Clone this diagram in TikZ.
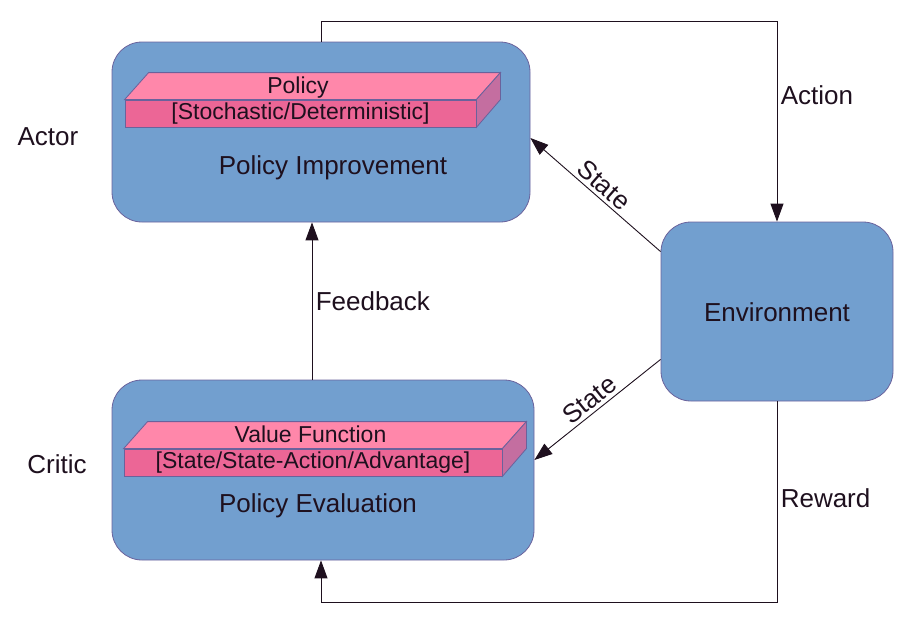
\documentclass[tikz,border=0pt]{standalone}
\usepackage{fontspec}
\setmainfont{Liberation Sans}
\usepackage{tikz}
\usetikzlibrary{positioning, arrows.meta, calc}

\definecolor{boxblue}{RGB}{114,159,207}
\definecolor{boxline}{RGB}{106,98,156}
\definecolor{slabtop}{RGB}{255,135,170}
\definecolor{slabfront}{RGB}{236,102,150}
\definecolor{slabside}{RGB}{196,110,160}
\definecolor{ink}{RGB}{30,16,30}

\tikzset{
  block/.style={draw=boxline, fill=boxblue, rounded corners=30pt, line width=0.8pt},
  slab/.style={draw=boxline, fill=slabfront, line width=0.8pt, minimum height=27pt,
    inner sep=0pt, text=ink, font=\fontsize{23}{27}\selectfont},
  slabtext/.style={inner sep=0pt, text=ink, font=\fontsize{23}{27}\selectfont},
  lbl/.style={text=ink, font=\fontsize{26}{31}\selectfont},
  flow/.style={draw=ink, line width=0.9pt, -{Triangle[length=18pt,width=13pt]}}
}

\begin{document}
\begin{tikzpicture}[x=1pt,y=-1pt]
  \useasboundingbox (0,0) rectangle (908,622);

  % blocks
  \node[block, minimum width=418pt, minimum height=180pt] (actor) at (321,132) {};
  \node[block, minimum width=422pt, minimum height=180pt] (critic) at (323,470) {};
  \node[block, minimum width=232pt, minimum height=179pt] (env) at (777,311.5) {};

  % policy slab
  \node[slab, minimum width=351pt] (polslab) at (300.5,113.5) {[Stochastic/Deterministic]};
  \filldraw[draw=boxline, fill=slabtop, line width=0.8pt] (polslab.north west) -- ++(24,-27)
    -- ($(polslab.north east)+(24,-27)$) -- (polslab.north east) -- cycle;
  \filldraw[draw=boxline, fill=slabside, line width=0.8pt] (polslab.north east) -- ++(24,-27)
    -- ++(0,27) -- (polslab.south east) -- cycle;
  \node[slabtext, above=6.5pt of polslab, anchor=base, xshift=-2.5pt] (poltitle) {Policy};

  % value slab
  \node[slab, minimum width=378pt] (valslab) at (313,462.5) {[State/State-Action/Advantage]};
  \filldraw[draw=boxline, fill=slabtop, line width=0.8pt] (valslab.north west) -- ++(24,-27)
    -- ($(valslab.north east)+(24,-27)$) -- (valslab.north east) -- cycle;
  \filldraw[draw=boxline, fill=slabside, line width=0.8pt] (valslab.north east) -- ++(24,-27)
    -- ++(0,27) -- (valslab.south east) -- cycle;
  \node[slabtext, above=6.5pt of valslab, anchor=base, xshift=-2.5pt] (valtitle) {Value Function};

  % texts
  \node[lbl] (impr) at (333,168) {Policy Improvement};
  \node[lbl] (evalu) at (318,506) {Policy Evaluation};
  \node[lbl] (envtext) at (777,312) {Environment};
  \node[lbl] (actortext) at (48,137) {Actor};
  \node[lbl] (critictext) at (57,464) {Critic};

  % connectors
  \draw[flow] (actor.north) -- ++(0,-20) -| node[pos=0.685, right, lbl] {Action} (env.north);
  \draw[flow] ([yshift=-30pt]env.north west) -- node[midway, sloped, above, lbl] {State}
    ([yshift=-6pt]actor.east);
  \draw[flow] ([yshift=42pt]env.south west) -- node[midway, sloped, above, lbl] {State}
    ([yshift=10pt]critic.east);
  \draw[flow] ([xshift=-11pt]critic.north) -- node[midway, right, lbl] {Feedback}
    ([xshift=-11pt]critic.north |- actor.south);
  \draw[flow] (env.south) -- node[pos=0.48, right, lbl] {Reward} ++(0,201)
    -| (critic.south -| actor.north);
\end{tikzpicture}
\end{document}
